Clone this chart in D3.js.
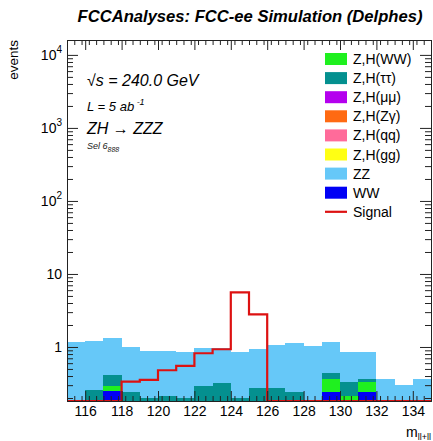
<!DOCTYPE html>
<html>
<head>
<meta charset="utf-8">
<script src="https://cdn.jsdelivr.net/npm/d3@7/dist/d3.min.js"></script>
<style>
  html, body { margin: 0; padding: 0; background: #fff; }
  svg { display: block; font-family: "Liberation Sans", Arial, Helvetica, sans-serif; }
</style>
</head>
<body>
<svg id="chart" width="433" height="441"></svg>
<script>
// Bin lower edges of m_{ll+ll} (GeV), 1 GeV wide
const binEdges = [115,116,117,118,119,120,121,122,123,124,125,126,127,128,129,130,131,132,133,134];

// Background contributions per bin (events)
const valWW       = [0,0,0.25,0,0,0,0,0,0,0,0,0,0,0,0.245,0,0.245,0,0,0];
const valZH_WW    = [0,0,0.045,0,0,0,0,0,0,0,0,0,0,0,0.125,0.21,0.09,0,0,0];
const valZH_tautau= [0,0.26,0.115,0.24,0.20,0.21,0.20,0.29,0.32,0.20,0.27,0.27,0.245,0,0.07,0.125,0.025,0,0,0];
const valZH_mumu  = [0,0,0,0,0,0,0,0,0,0,0,0,0,0,0,0,0,0,0,0];
const valZH_Zgam  = [0,0,0,0,0,0,0,0,0,0,0,0,0,0,0,0,0,0,0,0];
const valZH_qq    = [0,0,0,0,0,0,0,0,0,0,0,0,0,0,0,0,0,0,0,0];
const valZH_gg    = [0,0,0,0,0,0,0,0,0,0,0,0,0,0,0,0,0,0,0,0];
const valZZ       = [1.18,0.96,0.91,0.77,0.69,0.68,0.66,0.67,0.64,0.66,0.66,0.79,0.875,1.03,0.74,0.525,0.5,0.36,0.30,0.36];

// Signal (ZH -> ZZZ)
const valSignal   = [0,0,0,0.335,0.354,0.48,0.55,0.82,0.93,5.6,2.8,0,0,0,0,0,0,0,0,0];

// Axis tick values
const xMajorTicks = [116,118,120,122,124,126,128,130,132,134];
const yMajorTicks = [1,10,100,1000,10000];
const yTickLabels = [["1",""],["10",""],["10","2"],["10","3"],["10","4"]];

// Legend entries (top to bottom)
const legendNames = ["Z,H(WW)","Z,H(\u03C4\u03C4)","Z,H(\u03BC\u03BC)","Z,H(Z\u03B3)","Z,H(qq)","Z,H(gg)","ZZ","WW","Signal"];
const legendKeys  = ["ZH_WW","ZH_tautau","ZH_mumu","ZH_Zgam","ZH_qq","ZH_gg","ZZ","WW","Signal"];

const colors = {
  WW: "#0000f5",
  ZH_WW: "#1ff01f",
  ZH_tautau: "#04908f",
  ZH_mumu: "#b400ee",
  ZH_Zgam: "#ff6a12",
  ZH_qq: "#ff6b9a",
  ZH_gg: "#ffff14",
  ZZ: "#66c8f8",
  Signal: "#dd1111"
};

// Stack order, bottom to top
const stackKeys = ["WW","ZH_WW","ZH_tautau","ZH_mumu","ZH_Zgam","ZH_qq","ZH_gg","ZZ"];
const series = {
  WW: valWW, ZH_WW: valZH_WW, ZH_tautau: valZH_tautau, ZH_mumu: valZH_mumu,
  ZH_Zgam: valZH_Zgam, ZH_qq: valZH_qq, ZH_gg: valZH_gg, ZZ: valZZ
};

const rows = binEdges.map((lo, i) => {
  const r = { lo: lo, hi: lo + 1 };
  stackKeys.forEach(k => r[k] = series[k][i]);
  return r;
});

const svg = d3.select("#chart");
const pLeft = 67, pRight = 431, pTop = 40, pBottom = 401;
const yMin = 0.182, yMax = 16000;

const x = d3.scaleLinear().domain([115, 135]).range([pLeft, pRight]);
const y = d3.scaleLog().domain([yMin, yMax]).range([pBottom, pTop]).clamp(true);

// Stacked backgrounds
const stacked = d3.stack().keys(stackKeys)(rows);
const gStack = svg.append("g");
stacked.forEach(layer => {
  gStack.selectAll(null)
    .data(layer.filter(d => d[1] - d[0] > 0))
    .enter().append("rect")
    .attr("x", d => x(d.data.lo))
    .attr("width", d => x(d.data.hi) - x(d.data.lo))
    .attr("y", d => y(d[1]))
    .attr("height", d => y(Math.max(d[0], yMin)) - y(d[1]))
    .attr("fill", colors[layer.key])
    .attr("shape-rendering", "crispEdges");
});

// Signal as a step outline
const sigPts = [];
binEdges.forEach((lo, i) => {
  const v = Math.max(valSignal[i], yMin);
  sigPts.push([x(lo), y(v)]);
  sigPts.push([x(lo + 1), y(v)]);
});
svg.append("path")
  .attr("d", d3.line()(sigPts))
  .attr("fill", "none")
  .attr("stroke", colors.Signal)
  .attr("stroke-width", 2.2);

// Axes: ticks point inward on all four sides
const axisColor = "#222";
function styleAxis(g) {
  g.selectAll("path.domain").attr("stroke", axisColor).attr("stroke-width", 1);
  g.selectAll(".tick line").attr("stroke", axisColor).attr("stroke-width", 1);
}

const xMinorTicks = d3.range(115, 135.001, 0.4).map(v => +v.toFixed(2)).filter(v => !xMajorTicks.includes(v));
const yMinorTicks = [];
[-1,0,1,2,3,4].forEach(e => {
  for (let m = 2; m <= 9; m++) {
    const v = m * Math.pow(10, e);
    if (v >= yMin && v <= yMax) yMinorTicks.push(v);
  }
});

// Bottom
const gB = svg.append("g").attr("transform", `translate(0,${pBottom})`);
gB.call(d3.axisBottom(x).tickValues(xMinorTicks).tickSizeInner(-5).tickSizeOuter(0).tickFormat(""));
const gB2 = svg.append("g").attr("transform", `translate(0,${pBottom})`);
gB2.call(d3.axisBottom(x).tickValues(xMajorTicks).tickSizeInner(-10).tickSizeOuter(0).tickPadding(5).tickFormat(d3.format("d")));
gB2.selectAll("text").attr("font-size", 14).attr("fill", "#000").attr("font-family", "Liberation Sans, Arial, sans-serif");
styleAxis(gB); styleAxis(gB2);

// Top
const gT = svg.append("g").attr("transform", `translate(0,${pTop})`);
gT.call(d3.axisTop(x).tickValues(xMinorTicks).tickSizeInner(-5).tickSizeOuter(0).tickFormat(""));
const gT2 = svg.append("g").attr("transform", `translate(0,${pTop})`);
gT2.call(d3.axisTop(x).tickValues(xMajorTicks).tickSizeInner(-10).tickSizeOuter(0).tickFormat(""));
styleAxis(gT); styleAxis(gT2);

// Left
const gL = svg.append("g").attr("transform", `translate(${pLeft},0)`);
gL.call(d3.axisLeft(y).tickValues(yMinorTicks).tickSizeInner(-6).tickSizeOuter(0).tickFormat(""));
const gL2 = svg.append("g").attr("transform", `translate(${pLeft},0)`);
gL2.call(d3.axisLeft(y).tickValues(yMajorTicks).tickSizeInner(-11).tickSizeOuter(0).tickFormat(""));
styleAxis(gL); styleAxis(gL2);
gL2.selectAll(".tick").each(function(d) {
  const lab = yTickLabels[yMajorTicks.indexOf(d)];
  const t = d3.select(this).append("text")
    .attr("x", -5).attr("dy", "0.35em")
    .attr("text-anchor", "end").attr("font-size", 14).attr("fill", "#000");
  t.append("tspan").text(lab[0]);
  if (lab[1]) t.append("tspan").attr("font-size", 10).attr("dy", "-0.75em").text(lab[1]);
});

// Right
const gR = svg.append("g").attr("transform", `translate(${pRight},0)`);
gR.call(d3.axisRight(y).tickValues(yMinorTicks).tickSizeInner(-6).tickSizeOuter(0).tickFormat(""));
const gR2 = svg.append("g").attr("transform", `translate(${pRight},0)`);
gR2.call(d3.axisRight(y).tickValues(yMajorTicks).tickSizeInner(-11).tickSizeOuter(0).tickFormat(""));
styleAxis(gR); styleAxis(gR2);

// Title
svg.append("text")
  .attr("x", 250).attr("y", 22)
  .attr("text-anchor", "middle")
  .attr("font-size", 16.6).attr("font-weight", "bold").attr("font-style", "italic")
  .text("FCCAnalyses: FCC-ee Simulation (Delphes)");

// Axis titles
svg.append("text")
  .attr("transform", "translate(18,40) rotate(-90)")
  .attr("text-anchor", "end").attr("font-size", 13.5)
  .text("events");

const xt = svg.append("text")
  .attr("x", 431).attr("y", 437)
  .attr("text-anchor", "end").attr("font-size", 14);
xt.append("tspan").text("m");
xt.append("tspan").attr("font-size", 9).attr("dy", 3).text("ll+ll");

// Annotations
const ann = svg.append("g").attr("font-style", "italic");
const a1 = ann.append("text").attr("x", 87).attr("y", 86).attr("font-size", 16);
a1.append("tspan").text("\u221As");
a1.append("tspan").text(" = 240.0 GeV");

const a2 = ann.append("text").attr("x", 87).attr("y", 111).attr("font-size", 13);
a2.append("tspan").text("L = 5 ab");
a2.append("tspan").attr("font-size", 9).attr("dy", -6).text(" -1");

ann.append("text").attr("x", 87).attr("y", 134).attr("font-size", 16).text("ZH \u2192 ZZZ");

const a4 = ann.append("text").attr("x", 87).attr("y", 149).attr("font-size", 9).attr("fill", "#222");
a4.append("tspan").text("Sel 6");
a4.append("tspan").attr("font-size", 7).attr("dy", 3).text("888");

// Legend
const lg = svg.append("g");
legendKeys.forEach((k, i) => {
  const cy = 59 + i * 19.1;
  if (k === "Signal") {
    lg.append("line")
      .attr("x1", 325).attr("x2", 347).attr("y1", cy).attr("y2", cy)
      .attr("stroke", colors.Signal).attr("stroke-width", 2.2);
  } else {
    lg.append("rect")
      .attr("x", 325).attr("y", cy - 6).attr("width", 22).attr("height", 12)
      .attr("fill", colors[k]);
  }
  lg.append("text")
    .attr("x", 353).attr("y", cy).attr("dy", "0.36em")
    .attr("font-size", 14).attr("fill", "#000")
    .text(legendNames[i]);
});
</script>
</body>
</html>
